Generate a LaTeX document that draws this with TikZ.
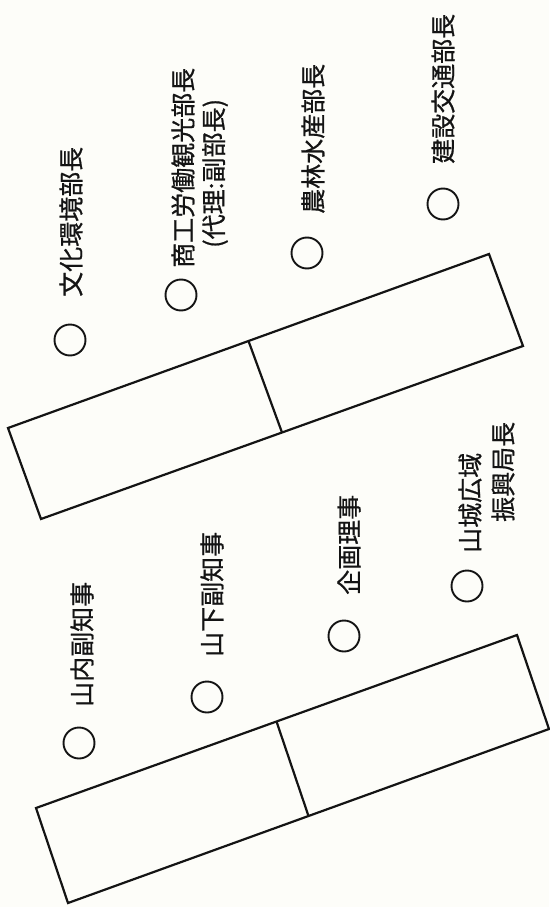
\documentclass[tikz,border=0pt]{standalone}
\usepackage{fontspec}
\usetikzlibrary{calc}
\newfontfamily\jp[FakeBold=0.7]{Noto Sans CJK JP}
\definecolor{paper}{RGB}{253,253,249}
\definecolor{ink}{RGB}{20,20,20}
\begin{document}
\begin{tikzpicture}[x=1pt,y=-1pt,
  lbl/.style={rotate=90,anchor=west,inner sep=0pt,font=\jp\fontsize{25}{25}\selectfont,text=ink},
  ring/.style={circle,draw=ink,line width=1.9pt,minimum size=31pt,inner sep=0pt},
  boxline/.style={draw=ink,line width=2.2pt,line join=miter}]
\fill[paper] (0,0) rectangle (549,907);
\useasboundingbox (0,0) rectangle (549,907);
% top box
\coordinate (TA) at (8,428);
\coordinate (TB) at (489,254);
\coordinate (TC) at (523,346);
\coordinate (TD) at (41,519);
\draw[boxline] (TA) -- (TB) -- (TC) -- (TD) -- cycle;
\draw[boxline] ($(TA)!0.5!(TB)$) -- ($(TD)!0.5!(TC)$);
% bottom box
\coordinate (BA) at (36,808);
\coordinate (BB) at (517,635);
\coordinate (BC) at (549,729);
\coordinate (BD) at (68,903);
\draw[boxline] (BA) -- (BB) -- (BC) -- (BD) -- cycle;
\draw[boxline] ($(BA)!0.5!(BB)$) -- ($(BD)!0.5!(BC)$);
% circles
\node[ring] (c1) at (70,340) {};
\node[ring] (c2) at (181,295) {};
\node[ring] (c3) at (307,253) {};
\node[ring] (c4) at (443,204) {};
\node[ring] (c5) at (79,743) {};
\node[ring] (c6) at (207,697) {};
\node[ring] (c7) at (344,636) {};
\node[ring] (c8) at (467,586) {};
% labels
\node[lbl] (t1) at (71,297) {文化環境部長};
\node[lbl] (t2) at (183,268) {商工労働観光部長};
\node[lbl] (t2b) at (215,248) {(代理:副部長)};
\node[lbl] (t3) at (313,214) {農林水産部長};
\node[lbl] (t4) at (443,164) {建設交通部長};
\node[lbl] (t5) at (82,707) {山内副知事};
\node[lbl] (t6) at (212,657) {山下副知事};
\node[lbl] (t7) at (349,595) {企画理事};
\node[lbl] (t8) at (470,553) {山城広域};
\node[lbl] (t8b) at (503,522) {振興局長};
\end{tikzpicture}
\end{document}
